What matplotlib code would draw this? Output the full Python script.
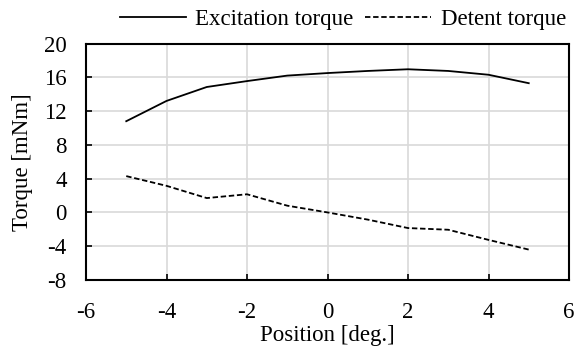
import matplotlib
matplotlib.use("Agg")
import matplotlib.pyplot as plt

position = [-5, -4, -3, -2, -1, 0, 1, 2, 3, 4, 5]
excitation = [10.8, 13.2, 14.85, 15.55, 16.2, 16.5, 16.75, 16.95, 16.75, 16.3, 15.3]
detent = [4.3, 3.15, 1.7, 2.15, 0.8, 0.0, -0.85, -1.85, -2.05, -3.25, -4.4]
xticks = [-6, -4, -2, 0, 2, 4, 6]
yticks = [-8, -4, 0, 4, 8, 12, 16, 20]

plt.rcParams['font.family'] = ['Liberation Serif', 'DejaVu Serif']
fs = 16.5

fig = plt.figure(figsize=(5.79, 3.48), dpi=100)
ax = fig.add_axes([86/579, 1-280/348, (569-86)/579, (280-43.5)/348])

ax.plot(position, excitation, color='black', lw=1.3, ls='-', label='Excitation torque')
ax.plot(position, detent, color='black', lw=1.3, ls=(0, (3, 1.5)), label='Detent torque')

ax.set_xlim(-6, 6)
ax.set_ylim(-8, 20)
ax.set_xticks(xticks)
ax.set_yticks(yticks)
ax.set_xticklabels([str(v) for v in xticks], fontsize=fs)
ax.set_yticklabels([str(v) for v in yticks], fontsize=fs)
ax.grid(True, color='#d9d9d9', lw=1.2)
ax.set_axisbelow(True)
ax.tick_params(direction='in', length=4, width=1.2)
ax.tick_params(axis='x', pad=15.5)
ax.tick_params(axis='y', pad=14)
for s in ax.spines.values():
    s.set_linewidth(1.5)
ax.set_xlabel('Position [deg.]', fontsize=fs)
ax.set_ylabel('Torque [mNm]', fontsize=fs)
ax.xaxis.set_label_coords(0.5, -0.19)
ax.yaxis.set_label_coords(-0.11, 0.5)

leg = fig.legend(loc='upper right', bbox_to_anchor=(0.997, 1.008), ncol=2, frameon=False,
                 fontsize=fs, handlelength=2.9, handletextpad=0.4, columnspacing=0.5,
                 borderaxespad=0.1)

fig.savefig('out.png', dpi=100)
